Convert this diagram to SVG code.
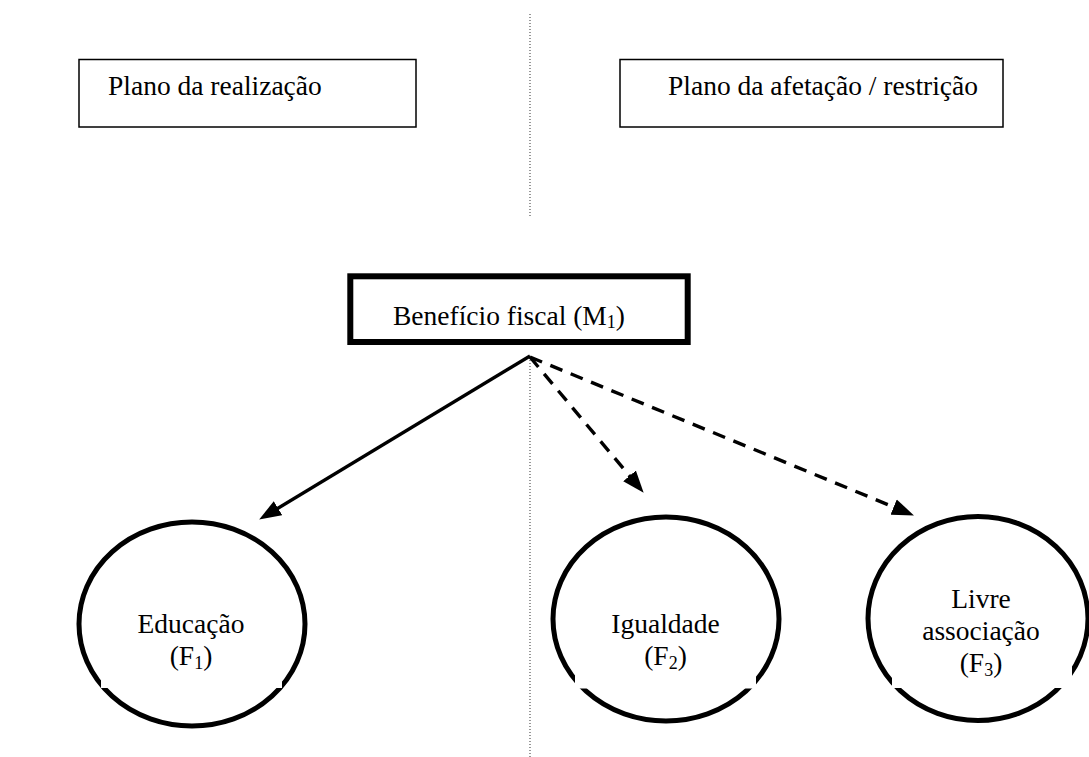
<svg xmlns="http://www.w3.org/2000/svg" width="1089" height="757" viewBox="0 0 1089 757">
<style>
text{font-family:"Liberation Serif","Times New Roman",serif;font-size:27.5px;fill:#000}
.c{text-anchor:middle}
.sub{font-size:18px}
.box{fill:#fff;stroke:#000;stroke-width:1.5}
.ell{fill:#fff;stroke:#000;stroke-width:5}
.gap{fill:#fff;stroke:none}
.arr{fill:none;stroke:#000;stroke-width:3.4}
.dash{stroke-dasharray:13 9}
.div{fill:none;stroke:#444;stroke-width:1.1;stroke-dasharray:1.1 1.9}
</style>
<defs>
<marker id="ah" markerUnits="userSpaceOnUse" markerWidth="22" markerHeight="18" viewBox="0 0 20 15" refX="10" refY="7.5" orient="auto">
<path d="M0,0 L20,7.5 L0,15 z" fill="#000"/>
</marker>
</defs>
<rect width="1089" height="757" fill="#fff"/>
<g id="divider">
<line class="div" x1="530" y1="14" x2="530" y2="218"/>
<line class="div" x1="530" y1="357" x2="530" y2="757"/>
</g>
<g id="plano-realizacao">
<rect class="box" x="79" y="59.5" width="337" height="67.5"/>
<text x="108" y="95">Plano da realização</text>
</g>
<g id="plano-afetacao">
<rect class="box" x="620" y="59.5" width="383" height="67.5"/>
<text x="668" y="95">Plano da afetação / restrição</text>
</g>
<g id="beneficio">
<rect x="350.3" y="276.3" width="337.4" height="65.7" fill="#fff" stroke="#000" stroke-width="6"/>
<text x="393" y="325">Benefício fiscal (M<tspan class="sub" dy="3">1</tspan><tspan dy="-3">)</tspan></text>
</g>
<g id="connectors">
<line class="arr" x1="530" y1="356" x2="268.6" y2="513.9" marker-end="url(#ah)"/>
<line class="arr dash" x1="530" y1="357" x2="636.6" y2="484.3" marker-end="url(#ah)"/>
<line class="arr dash" x1="530" y1="357" x2="903.8" y2="511.2" marker-end="url(#ah)"/>
</g>
<g id="educacao">
<ellipse class="ell" cx="192" cy="624" rx="113" ry="102"/>
<rect class="gap" x="101" y="640" width="181" height="48"/>
<text class="c" x="191" y="633">Educação</text>
<text class="c" x="191" y="665">(F<tspan class="sub" dy="4">1</tspan><tspan dy="-4">)</tspan></text>
</g>
<g id="igualdade">
<ellipse class="ell" cx="666" cy="619" rx="113" ry="102"/>
<rect class="gap" x="575" y="640" width="181" height="48.5"/>
<text class="c" x="665.5" y="633">Igualdade</text>
<text class="c" x="665.5" y="665">(F<tspan class="sub" dy="4">2</tspan><tspan dy="-4">)</tspan></text>
</g>
<g id="livre-associacao">
<ellipse class="ell" cx="978" cy="618.5" rx="110" ry="102"/>
<rect class="gap" x="892" y="640" width="180" height="48"/>
<text class="c" x="981" y="608">Livre</text>
<text class="c" x="981" y="640">associação</text>
<text class="c" x="981" y="672">(F<tspan class="sub" dy="4">3</tspan><tspan dy="-4">)</tspan></text>
</g>
</svg>
